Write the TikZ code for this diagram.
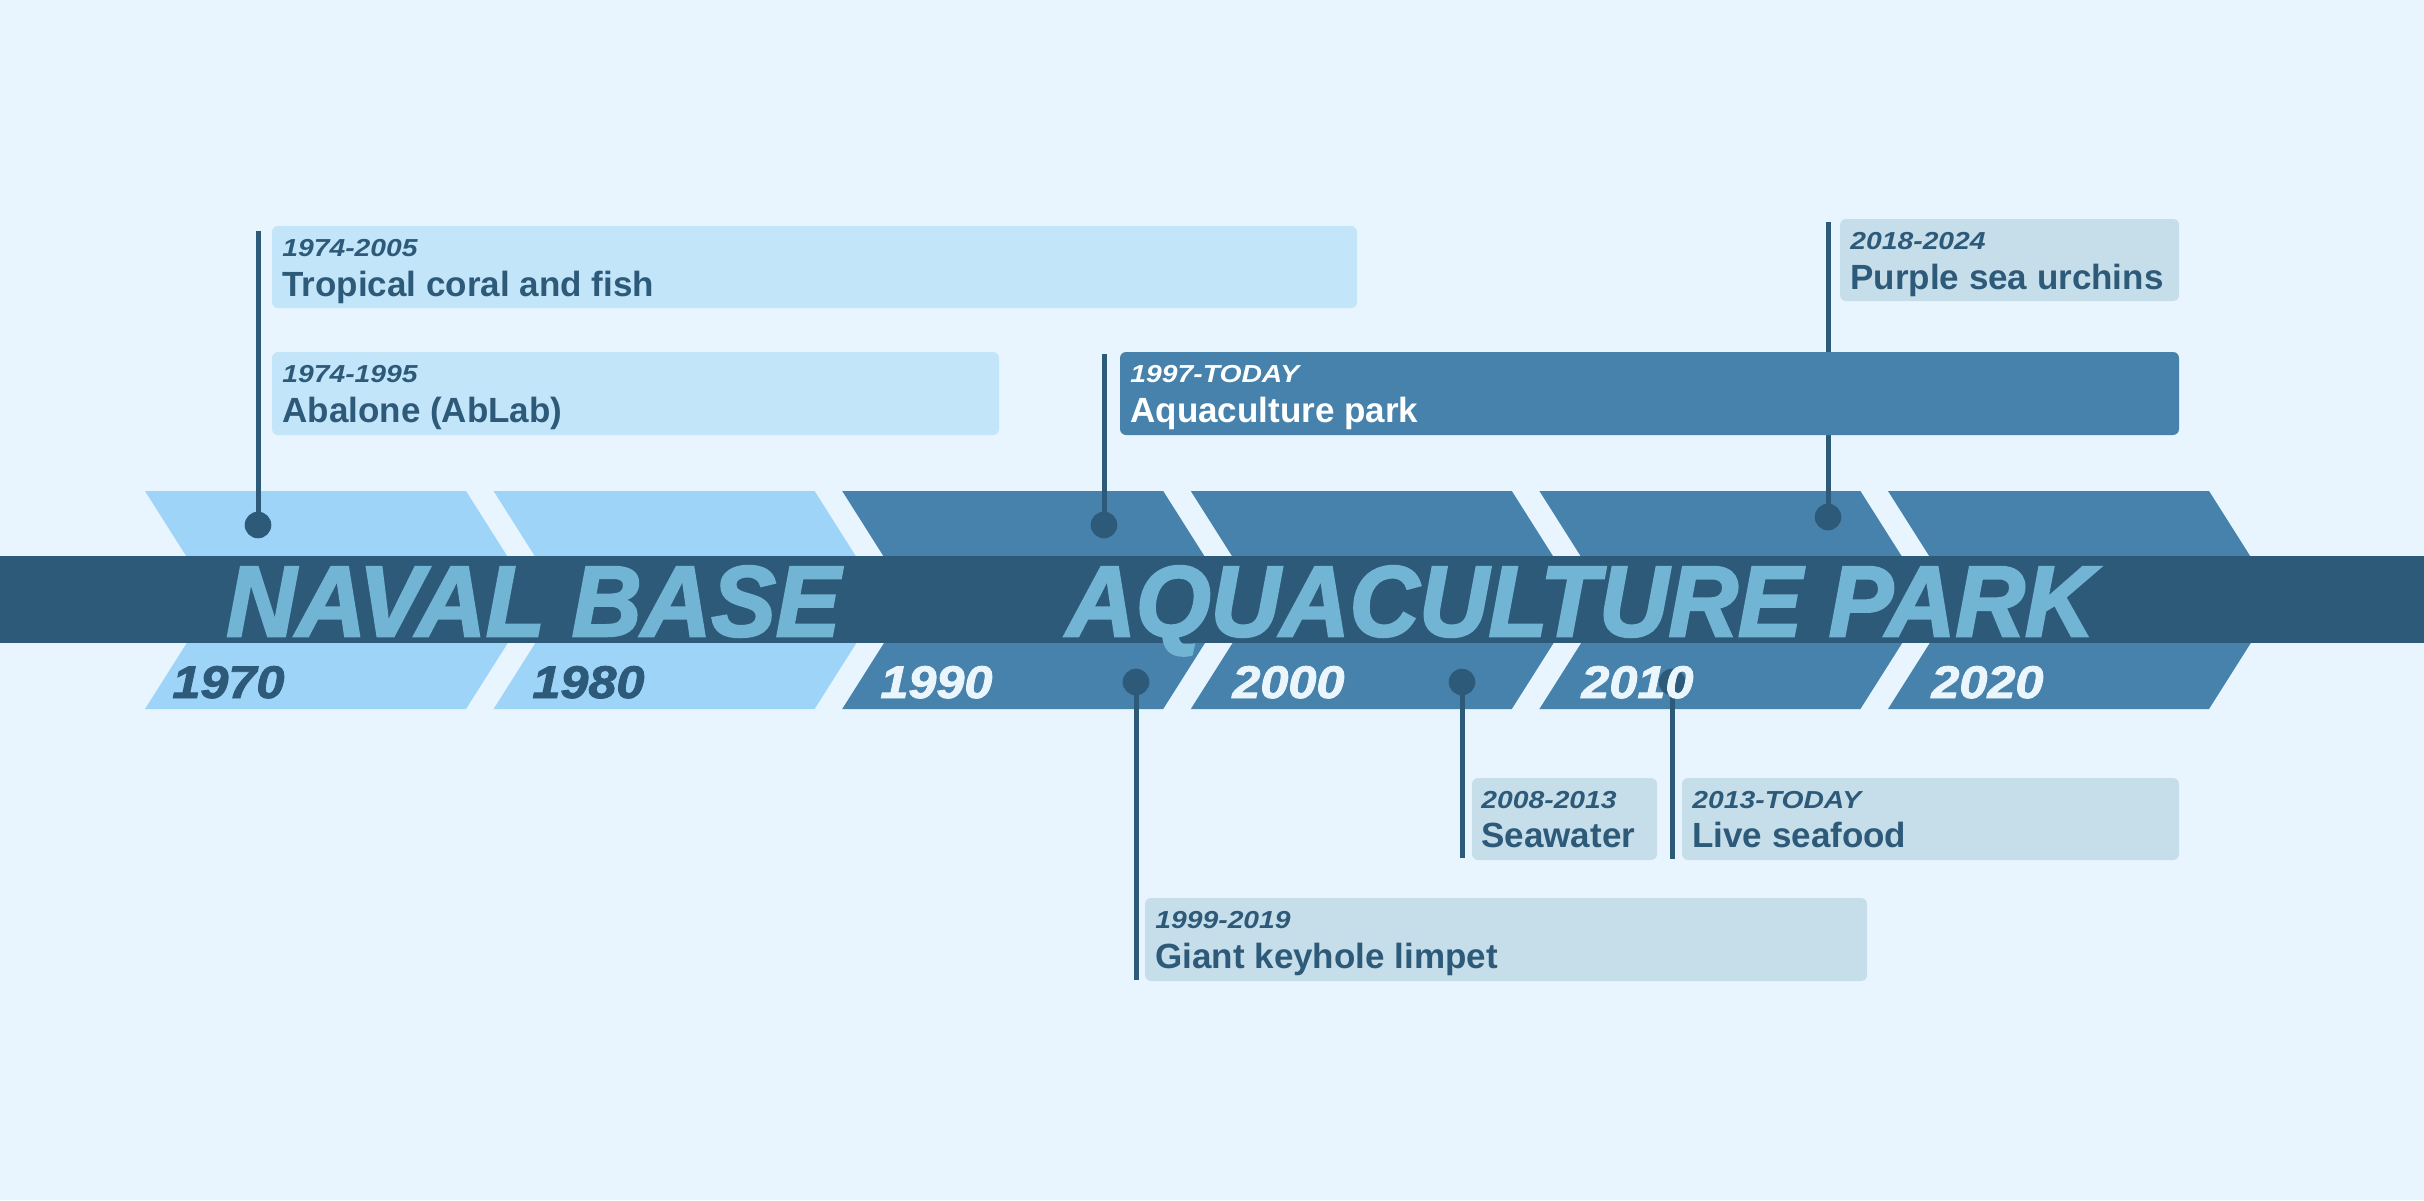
\documentclass[tikz,border=0pt]{standalone}
\usepackage{fontspec}
\setmainfont{Liberation Sans}
\newfontface\heavyface{Liberation Sans Bold Italic}[FakeBold=2.5]
\newfontface\yearface{Liberation Sans Bold Italic}[FakeBold=1.8]
\usepackage{graphicx}
\definecolor{bg}{HTML}{E8F5FE}
\definecolor{chevlight}{HTML}{9DD4F8}
\definecolor{chevdark}{HTML}{4682AB}
\definecolor{band}{HTML}{2E5A7A}
\definecolor{bandtxt}{HTML}{71B4D3}
\definecolor{lightbox}{HTML}{C2E5FA}
\definecolor{greybox}{HTML}{C6DEEA}
\definecolor{ink}{HTML}{2E5A7A}
\definecolor{yrwhite}{HTML}{EAF5FC}
\newcommand\dtxt[1]{\scalebox{1.15}[1]{\fontsize{12.3pt}{14pt}\selectfont\bfseries\itshape #1}}
\newcommand\yrtxt[1]{\scalebox{1.1}[1]{\fontsize{22.9pt}{24pt}\yearface #1}}
\tikzset{
  stem/.style={draw=ink, line width=2.5pt},
  dot/.style={circle, fill=ink, inner sep=0pt, minimum size=13.3pt},
  evbox/.style={rounded corners=3pt},
  datet/.style={anchor=base west, inner sep=0pt, text=ink},
  titlet/.style={anchor=base west, inner sep=0pt, text=ink, font=\fontsize{17.5pt}{20pt}\selectfont\bfseries},
  yearlbl/.style={anchor=base west, inner sep=0pt},
  bandlbl/.style={anchor=base west, inner sep=0pt, text=bandtxt, font=\fontsize{48pt}{50pt}\selectfont\heavyface}
}
\begin{document}
\begin{tikzpicture}[x=0.5pt,y=-0.5pt]
\useasboundingbox (0,0) rectangle (2424,1200);
\fill[bg] (0,0) rectangle (2424,1200);
% chevrons
\foreach \L/\c in {145/chevlight, 493.6/chevlight, 842.2/chevdark, 1190.8/chevdark, 1539.4/chevdark, 1888/chevdark}
  \fill[\c] (\L,491) -- ++(321,0) -- ++(69,109) -- ++(-69,109) -- ++(-321,0) -- ++(69,-109) -- cycle;
% lower markers
\coordinate (c4) at (1136,682); \coordinate (e4) at (1136,980);
\coordinate (c5) at (1462,682); \coordinate (e5) at (1462,858);
\coordinate (c6) at (1672,682); \coordinate (e6) at (1672,859);
\draw[stem] (c4) -- (e4);
\draw[stem] (c5) -- (e5);
\draw[stem] (c6) -- (e6);
\node[dot] (d4) at (c4) {};
\node[dot] (d5) at (c5) {};
\node[dot] (d6) at (c6) {};
% years
\node[yearlbl, text=ink] (y1970) at (172,698) {\yrtxt{1970}};
\node[yearlbl, text=ink] (y1980) at (532,698) {\yrtxt{1980}};
\node[yearlbl, text=yrwhite] (y1990) at (880,698) {\yrtxt{1990}};
\node[yearlbl, text=yrwhite] (y2000) at (1232,698) {\yrtxt{2000}};
\node[yearlbl, text=yrwhite] (y2010) at (1581,698) {\yrtxt{2010}};
\node[yearlbl, text=yrwhite] (y2020) at (1931,698) {\yrtxt{2020}};
% band
\fill[band] (0,556) rectangle (2424,643);
\node[bandlbl] (naval) at (226,636) {\resizebox{307pt}{35pt}{NAVAL BASE}};
\node[bandlbl] (aqua) at (1066,636) {\resizebox{514pt}{35pt}{AQUACULTURE PARK}};
% upper markers
\coordinate (c1) at (258,525); \coordinate (s1) at (258,231);
\coordinate (c2) at (1104,525); \coordinate (s2) at (1104,354);
\coordinate (c3) at (1828,517); \coordinate (s3) at (1828,222);
\draw[stem] (s1) -- (c1);
\draw[stem] (s2) -- (c2);
\draw[stem] (s3) -- (c3);
\node[dot] (d1) at (c1) {};
\node[dot] (d2) at (c2) {};
\node[dot] (d3) at (c3) {};
% boxes
\fill[lightbox, evbox] (272,226) rectangle (1357,308);
\node[datet] (t1d) at (282,256.5) {\dtxt{1974-2005}};
\node[titlet] (t1t) at (282,296) {Tropical coral and fish};
\fill[lightbox, evbox] (272,352) rectangle (999,435);
\node[datet] (t2d) at (282,382.5) {\dtxt{1974-1995}};
\node[titlet] (t2t) at (282,422) {Abalone (AbLab)};
\fill[chevdark, evbox] (1120,352) rectangle (2179,435);
\node[datet, text=white] (t3d) at (1130,382.5) {\dtxt{1997-TODAY}};
\node[titlet, text=white] (t3t) at (1130,422) {Aquaculture park};
\fill[greybox, evbox] (1840,219) rectangle (2179,301);
\node[datet] (t4d) at (1850,249.5) {\dtxt{2018-2024}};
\node[titlet] (t4t) at (1850,289) {Purple sea urchins};
\fill[greybox, evbox] (1472,778) rectangle (1657,860);
\node[datet] (t5d) at (1481,808) {\dtxt{2008-2013}};
\node[titlet] (t5t) at (1481,847.5) {Seawater};
\fill[greybox, evbox] (1682,778) rectangle (2179,860);
\node[datet] (t6d) at (1692,808) {\dtxt{2013-TODAY}};
\node[titlet] (t6t) at (1692,847.5) {Live seafood};
\fill[greybox, evbox] (1145,898) rectangle (1867,981);
\node[datet] (t7d) at (1155,928.5) {\dtxt{1999-2019}};
\node[titlet] (t7t) at (1155,968) {Giant keyhole limpet};
\end{tikzpicture}
\end{document}
